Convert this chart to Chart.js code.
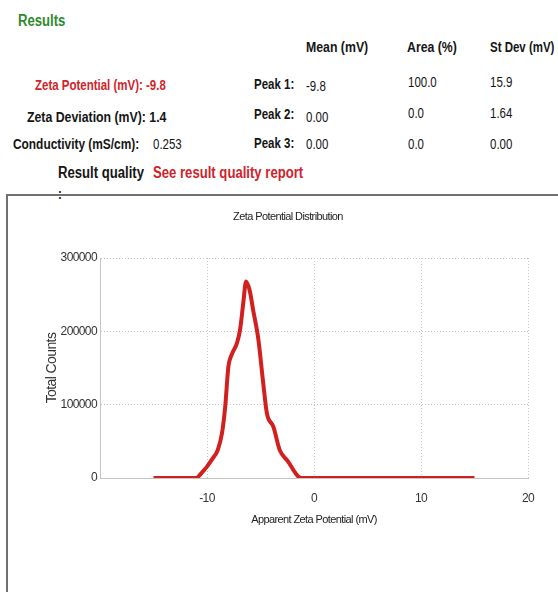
<!DOCTYPE html>
<html>
<head>
<meta charset="utf-8">
<script src="https://cdn.jsdelivr.net/npm/chart.js@4.4.1/dist/chart.umd.min.js"></script>
<style>
  html, body { margin: 0; padding: 0; background: #fff; overflow: hidden; }
  body { width: 558px; height: 592px; position: relative; font-family: "Liberation Sans", Arial, sans-serif; color: #151515; }
  /* no narrow font installed, so squeeze Liberation Sans to Arial Narrow proportions */
  .t { position: absolute; white-space: nowrap; font-size: 14px; line-height: 16px; transform: scaleX(0.82); transform-origin: 0 50%; }
  .b { font-weight: bold; }
  .big { font-size: 16px; line-height: 18px; }
  .red { color: #d0242b; }
  .green { color: #2e8b2e; }
  #frame { position: absolute; left: 6px; top: 194px; width: 600px; height: 500px; border: 2px solid #707070; box-sizing: border-box; }
  #wrap { position: absolute; left: 8px; top: 196px; width: 550px; height: 396px; }
</style>
</head>
<body>
<div class="t b green big" style="left:18px; top:12px;">Results</div>

<div class="t b" style="left:306px; top:39px; font-size:15px;">Mean (mV)</div>
<div class="t b" style="left:407px; top:39px; font-size:15px;">Area (%)</div>
<div class="t b" style="left:490px; top:39px;">St Dev (mV)</div>

<div class="t b red" style="left:35px; top:77px;">Zeta Potential (mV): -9.8</div>
<div class="t b" style="left:254px; top:76px;">Peak 1:</div>
<div class="t" style="left:306px; top:78px;">-9.8</div>
<div class="t" style="left:408px; top:74px;">100.0</div>
<div class="t" style="left:490px; top:74px;">15.9</div>

<div class="t b" style="left:27px; top:109px; font-size:15px;">Zeta Deviation (mV): 1.4</div>
<div class="t b" style="left:254px; top:106px;">Peak 2:</div>
<div class="t" style="left:306px; top:109px;">0.00</div>
<div class="t" style="left:408px; top:105px;">0.0</div>
<div class="t" style="left:490px; top:105px;">1.64</div>

<div class="t b" style="left:13px; top:136px; font-size:14.5px;">Conductivity (mS/cm):</div>
<div class="t" style="left:153px; top:136px;">0.253</div>
<div class="t b" style="left:254px; top:135px;">Peak 3:</div>
<div class="t" style="left:306px; top:136px;">0.00</div>
<div class="t" style="left:408px; top:136px;">0.0</div>
<div class="t" style="left:490px; top:136px;">0.00</div>

<div class="t b big" style="left:58px; top:164px;">Result quality</div>
<div class="t b red big" style="left:153px; top:164px;">See result quality report</div>

<div id="frame"></div>
<div class="t b" style="left:58px; top:187px; font-size:14px; line-height:14px;">:</div>
<div id="wrap"><canvas id="zetaChart"></canvas></div>

<script>
// values
const zetaMv = [-15, -11, -10.5, -10, -9.5, -9, -8.6, -8.3, -8.0, -7.7, -7.2, -6.9, -6.6, -6.35, -6.0, -5.7, -5.2, -4.75, -4.4, -3.8, -3.2, -2.4, -1.8, -1.4, -1.1, 15];
const totalCounts = [0, 0, 7000, 15500, 26000, 38000, 61000, 97000, 152000, 168000, 184000, 203000, 240000, 268000, 255000, 230000, 189000, 130000, 88000, 70000, 38000, 22000, 8000, 1000, 0, 0];
const xTicks = [-20, -10, 0, 10, 20];
const yTicks = [0, 100000, 200000, 300000];

const sans = '"Liberation Sans", Arial, sans-serif';
const gridStyle = { color: '#c4c4c4', lineWidth: 1, drawTicks: false };

// tighter letters on the canvas, to look like the narrow font of the original
const narrowText = {
  id: 'narrowText',
  beforeLayout: chart => { chart.ctx.letterSpacing = '-0.6px'; },
  beforeDraw: chart => { chart.ctx.letterSpacing = '-0.6px'; }
};

new Chart(document.getElementById('zetaChart'), {
  type: 'line',
  data: {
    datasets: [{
      data: zetaMv.map((x, i) => ({ x: x, y: totalCounts[i] })),
      borderColor: '#d21f1f',
      borderWidth: 4,
      pointRadius: 0,
      cubicInterpolationMode: 'monotone',
      fill: false
    }]
  },
  plugins: [narrowText],
  options: {
    responsive: true,
    maintainAspectRatio: false,
    animation: false,
    // left/right padding also centres the title where the original has it
    layout: { padding: { left: 40, right: 30, top: 0, bottom: 65.8 } },
    plugins: {
      legend: { display: false },
      tooltip: { enabled: false },
      title: {
        display: true,
        text: 'Zeta Potential Distribution',
        color: '#222',
        font: { family: sans, size: 11, weight: 'normal', lineHeight: 1.2 },
        padding: { top: 14.4, bottom: 34.4 }
      }
    },
    scales: {
      x: {
        type: 'linear',
        min: -20,
        max: 20,
        afterBuildTicks: axis => { axis.ticks = xTicks.map(v => ({ value: v })); },
        afterFit: axis => { axis.height = 48.2; },
        grid: gridStyle,
        border: { display: true, color: '#c4c4c4', dash: [1, 2] },
        ticks: {
          padding: 13,
          color: '#333',
          font: { family: sans, size: 12 },
          callback: v => (v === -20 ? '' : String(v))
        },
        title: {
          display: true,
          text: 'Apparent Zeta Potential (mV)',
          color: '#222',
          font: { family: sans, size: 11, lineHeight: 1.2 },
          padding: { top: 0, bottom: 0 }
        }
      },
      y: {
        min: 0,
        max: 300000,
        afterBuildTicks: axis => { axis.ticks = yTicks.map(v => ({ value: v })); },
        afterFit: axis => { axis.width = 52; },
        grid: gridStyle,
        border: { display: true, color: '#c4c4c4', dash: [1, 2] },
        ticks: { padding: 3, color: '#333', font: { family: sans, size: 12 }, callback: v => String(v) },
        title: {
          display: true,
          text: 'Total Counts',
          color: '#333',
          font: { family: sans, size: 14, lineHeight: 1.2 },
          padding: { top: -4.4, bottom: 0 }
        }
      }
    }
  }
});
</script>
</body>
</html>
